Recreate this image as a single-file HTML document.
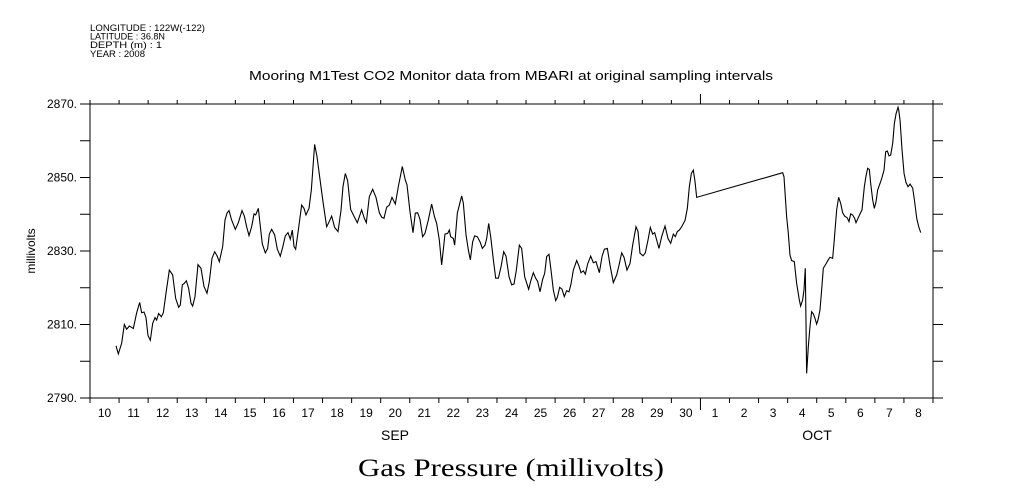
<!DOCTYPE html>
<html><head><meta charset="utf-8"><style>
html,body{margin:0;padding:0;background:#fff;width:1009px;height:504px;overflow:hidden}
svg text{font-family:"Liberation Sans",sans-serif;fill:#000}
</style></head><body>
<svg id="chart" width="1009" height="504" viewBox="0 0 1009 504" xmlns="http://www.w3.org/2000/svg">
<g font-size="9.5">
<text x="90" y="31" textLength="115" lengthAdjust="spacingAndGlyphs">LONGITUDE : 122W(-122)</text>
<text x="90" y="39.5" textLength="75" lengthAdjust="spacingAndGlyphs">LATITUDE : 36.8N</text>
<text x="90" y="48" textLength="72" lengthAdjust="spacingAndGlyphs">DEPTH (m) : 1</text>
<text x="90" y="57" textLength="55" lengthAdjust="spacingAndGlyphs">YEAR : 2008</text>
</g>
<text x="249" y="80" textLength="524" lengthAdjust="spacingAndGlyphs" font-size="13">Mooring M1Test CO2 Monitor data from MBARI at original sampling intervals</text>
<text transform="translate(35,251) rotate(-90)" text-anchor="middle" font-size="12">millivolts</text>
<text x="395" y="440" text-anchor="middle" font-size="14">SEP</text>
<text x="817" y="440" text-anchor="middle" font-size="14">OCT</text>
<text x="358" y="476" textLength="306" lengthAdjust="spacingAndGlyphs" font-size="25" style="font-family:'Liberation Serif',serif">Gas Pressure (millivolts)</text>
<rect x="90" y="104" width="843" height="294" fill="none" stroke="#000" stroke-width="1"/>
<g id="axes"></g>
<path id="series" fill="none" stroke="#000" stroke-width="1.1"/>
</svg>
<script>
const yTicks = [2790, 2800, 2810, 2820, 2830, 2840, 2850, 2860, 2870];
const yLabels = ["2790.", "", "2810.", "", "2830.", "", "2850.", "", "2870."];
const dayLabels = ["10","11","12","13","14","15","16","17","18","19","20","21","22","23","24","25","26","27","28","29","30","1","2","3","4","5","6","7","8"];
const monthStarts = [21];
// time in days since Sep 10 00:00
const times = [0.894,0.975,1.089,1.181,1.261,1.353,1.491,1.605,1.709,1.777,1.858,1.926,1.995,2.075,2.156,2.236,2.293,2.362,2.454,2.523,2.614,2.729,2.844,2.947,3.050,3.107,3.176,3.245,3.314,3.394,3.474,3.532,3.612,3.715,3.818,3.922,4.025,4.105,4.197,4.289,4.369,4.449,4.564,4.644,4.713,4.782,4.873,4.999,5.103,5.229,5.309,5.389,5.470,5.561,5.642,5.699,5.791,5.848,5.928,6.031,6.112,6.169,6.249,6.352,6.444,6.547,6.628,6.719,6.811,6.891,6.960,7.018,7.075,7.167,7.281,7.362,7.430,7.534,7.614,7.728,7.809,7.912,8.015,8.141,8.199,8.313,8.417,8.531,8.634,8.703,8.783,8.864,8.967,9.093,9.196,9.345,9.437,9.506,9.609,9.724,9.838,9.953,10.033,10.113,10.205,10.297,10.389,10.503,10.606,10.744,10.847,10.905,11.008,11.111,11.191,11.272,11.352,
11.443,11.524,11.638,11.753,11.845,11.925,12.017,12.097,12.212,12.304,12.361,12.407,12.499,12.545,12.637,12.706,12.786,12.843,12.935,13.015,13.084,13.164,13.233,13.325,13.417,13.497,13.589,13.646,13.715,13.784,13.876,13.956,14.048,14.140,14.231,14.311,14.415,14.506,14.586,14.667,14.770,14.850,14.953,15.090,15.171,15.251,15.331,15.400,15.481,15.572,15.641,15.710,15.790,15.859,15.939,16.020,16.077,16.157,16.237,16.317,16.397,16.478,16.547,16.627,16.742,16.822,16.891,16.971,17.040,17.121,17.224,17.316,17.407,17.522,17.614,17.694,17.797,17.889,18.003,18.118,18.187,18.290,18.370,18.473,18.577,18.668,18.783,18.852,18.920,19.024,19.104,19.196,19.276,19.356,19.425,19.494,19.574,19.666,19.781,19.884,19.976,20.067,20.136,20.205,20.274,20.354,20.469,20.549,20.618,20.687,20.755,20.813,20.870,
23.828,23.874,23.965,24.023,24.080,24.137,24.229,24.309,24.401,24.447,24.516,24.562,24.607,24.630,24.653,24.711,24.768,24.825,24.883,24.940,24.997,25.043,25.112,25.169,25.227,25.318,25.399,25.456,25.548,25.594,25.686,25.754,25.823,25.892,25.961,26.053,26.110,26.168,26.236,26.305,26.351,26.420,26.489,26.558,26.638,26.695,26.753,26.810,26.856,26.925,26.982,27.040,27.097,27.177,27.246,27.315,27.372,27.430,27.487,27.544,27.613,27.671,27.728,27.797,27.820,27.866,27.935,28.004,28.073,28.142,28.210,28.302,28.360,28.440,28.509,28.578];
const values = [2804.2,2802.0,2804.9,2810.0,2808.7,2809.6,2808.9,2813.2,2816.0,2813.2,2813.4,2811.9,2807.0,2805.7,2810.3,2811.9,2811.2,2813.0,2812.1,2813.2,2818.5,2824.8,2823.5,2817.1,2814.7,2815.3,2820.8,2821.2,2821.9,2819.8,2815.8,2815.0,2817.6,2826.3,2825.3,2820.3,2818.5,2821.7,2828.0,2829.8,2828.7,2827.1,2831.2,2838.4,2840.3,2841.0,2838.4,2835.9,2837.7,2841.0,2839.5,2836.6,2834.2,2836.6,2840.1,2839.8,2841.6,2837.5,2831.9,2829.5,2830.7,2834.6,2835.9,2834.4,2830.5,2828.6,2831.0,2834.1,2835.0,2833.2,2835.7,2831.2,2830.5,2835.7,2842.5,2841.6,2839.8,2841.6,2846.6,2859.0,2855.7,2849.5,2843.4,2836.6,2837.5,2839.5,2836.4,2835.3,2841.0,2847.5,2851.1,2849.1,2841.3,2839.3,2837.7,2841.2,2838.9,2837.7,2844.8,2846.8,2844.6,2840.4,2839.2,2838.9,2841.9,2842.5,2844.6,2842.8,2847.5,2853.0,2849.3,2848.0,2840.7,2835.0,2840.3,2840.4,2838.6,
2833.9,2834.8,2838.4,2842.8,2839.5,2837.5,2833.0,2826.2,2834.6,2834.8,2835.7,2833.9,2833.4,2831.6,2840.3,2842.5,2845.0,2843.0,2834.4,2830.3,2827.6,2832.5,2834.1,2833.9,2832.5,2830.7,2831.6,2833.4,2837.5,2833.9,2827.6,2822.6,2822.6,2825.7,2829.8,2828.6,2823.0,2820.8,2821.0,2824.8,2831.6,2830.7,2823.0,2819.6,2822.1,2824.1,2822.6,2821.7,2818.9,2822.3,2823.9,2828.5,2829.1,2824.8,2819.4,2816.5,2817.4,2820.1,2819.6,2817.6,2819.2,2818.9,2821.0,2824.8,2827.4,2825.9,2824.1,2824.6,2823.7,2826.5,2828.6,2826.8,2827.1,2824.1,2828.5,2830.5,2830.7,2826.2,2821.4,2823.5,2825.7,2829.5,2828.3,2824.8,2826.6,2831.6,2836.6,2835.3,2829.4,2828.7,2829.5,2833.0,2836.4,2834.6,2835.0,2833.0,2830.7,2833.9,2836.8,2833.4,2832.1,2834.6,2833.9,2835.3,2835.7,2836.6,2838.3,2841.6,2847.5,2851.1,2852.0,2848.9,2844.6,
2851.3,2850.2,2839.3,2834.8,2828.9,2827.4,2827.1,2821.2,2816.7,2815.0,2816.7,2819.4,2825.3,2811.2,2796.7,2804.0,2809.4,2813.5,2812.9,2811.7,2810.1,2811.2,2813.9,2819.4,2825.3,2826.5,2827.6,2828.3,2828.0,2832.1,2841.2,2844.6,2843.0,2840.4,2839.5,2839.0,2838.0,2840.1,2839.8,2838.9,2837.7,2838.9,2840.1,2841.2,2847.5,2850.4,2852.5,2852.2,2848.4,2843.9,2841.6,2843.4,2846.6,2848.4,2850.0,2852.0,2857.0,2857.2,2855.9,2856.1,2859.3,2864.7,2867.3,2869.1,2868.4,2865.6,2857.5,2851.1,2848.6,2847.5,2848.2,2847.1,2843.9,2838.9,2836.6,2835.0];

const X0=90, X1=933, Y0=398, Y1=104, NDAYS=29, VMIN=2790, VMAX=2870;
function xs(t){return X0+(X1-X0)*t/NDAYS;}
function ys(v){return Y0-(Y0-Y1)*(v-VMIN)/(VMAX-VMIN);}
const NS="http://www.w3.org/2000/svg";
const axes=document.getElementById('axes');
function line(x1,y1,x2,y2,name){
  const l=document.createElementNS(NS,'line');
  l.setAttribute('x1',x1);l.setAttribute('y1',y1);l.setAttribute('x2',x2);l.setAttribute('y2',y2);
  l.setAttribute('stroke','#000');l.setAttribute('stroke-width','1');
  
  
  axes.appendChild(l);
}
function text(x,y,s,anchor,size,name){
  const t=document.createElementNS(NS,'text');
  t.setAttribute('x',x);t.setAttribute('y',y);t.setAttribute('text-anchor',anchor);t.setAttribute('font-size',size);
  t.textContent=s;
  
  
  axes.appendChild(t);
}
yTicks.forEach((v,i)=>{
  const y=ys(v);
  line(X0-10,y,X0,y,'y-tick');
  line(X1,y,X1+10,y,'y-tick-right');
  if(yLabels[i]) text(X0-13,y+4,yLabels[i],'end',12,'y-tick-label');
});
for(let d=0; d<=NDAYS; d++){
  const x=xs(d);
  const isMonth=monthStarts.includes(d);
  line(x,Y1-(isMonth?10:4),x,Y1,'x-tick-top');
  line(x,Y0,x,Y0+(isMonth?12:5),'x-tick');
}
dayLabels.forEach((s,i)=>{ text(xs(i+0.5),417,s,'middle',12,'x-tick-label'); });
let d='';
for(let i=0;i<times.length;i++){ d+=(i?'L':'M')+xs(times[i]).toFixed(2)+' '+ys(values[i]).toFixed(2); }
document.getElementById('series').setAttribute('d',d);
</script>
</body></html>
